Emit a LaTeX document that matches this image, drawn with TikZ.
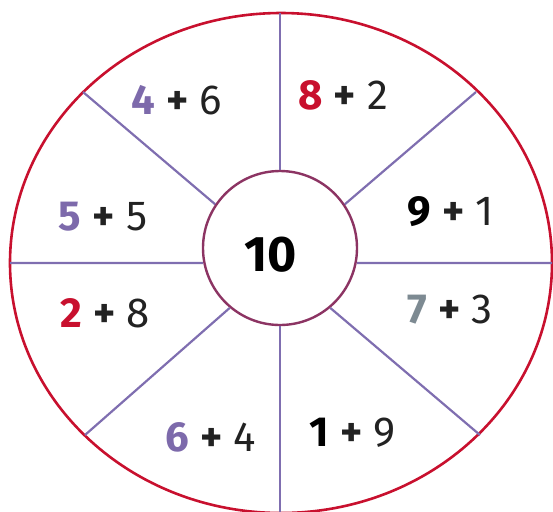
\documentclass[tikz,border=0pt]{standalone}
\usepackage{fontspec}
\setmainfont{Fira Sans}
\usetikzlibrary{positioning}
\definecolor{cred}{HTML}{C8102E}
\definecolor{cpurple}{HTML}{7D6AAB}
\definecolor{cline}{HTML}{7F6EB0}
\definecolor{cmaroon}{HTML}{8C3463}
\definecolor{cgray}{HTML}{7D8A92}
\definecolor{cdark}{HTML}{222222}

\begin{document}
\begin{tikzpicture}[x=0.5pt,y=-0.5pt,
  spoke/.style={draw=cline, line width=1.1pt},
  sum/.style={font=\fontsize{21}{24}\selectfont, text=cdark, inner sep=0},
  hub/.style={circle, draw=cmaroon, line width=1.2pt, fill=white, minimum size=77pt, inner sep=0}]
\useasboundingbox (0,0) rectangle (553,511);

% outer ring and centre
\draw[draw=cred, line width=1.3pt] (281,263) ellipse [x radius=271, y radius=250];
\node[hub] (hub) at (280,248) {};
\node[font=\fontsize{25}{28}\selectfont\bfseries, text=black, inner sep=0] (ten) at (271,255) {10};

\coordinate (rimN) at (280,13);
\coordinate (rimS) at (280,515);
\coordinate (rimW) at (10,263);
\coordinate (rimE) at (552,263);
\coordinate (rimNW) at (83,92);
\coordinate (rimNE) at (476,92);
\coordinate (rimSW) at (85,435);
\coordinate (rimSE) at (480,435);

% spokes
\draw[spoke] (rimN) -- (hub.north);
\draw[spoke] (hub.south) -- (rimS);
\draw[spoke] (rimW) -- (hub.191);
\draw[spoke] (hub.-11) -- (rimE);
\draw[spoke] (rimNW) -- (hub.146);
\draw[spoke] (rimNE) -- (hub.34);
\draw[spoke] (rimSW) -- (hub.230);
\draw[spoke] (rimSE) -- (hub.310);

% sums
\node[sum] (s46) at (177,100) {\textbf{\textcolor{cpurple}{4}} \textbf{+} 6};
\node[sum] (s82) at (343,95) {\textbf{\textcolor{cred}{8}} \textbf{+} 2};
\node[sum] (s55) at (103,217) {\textbf{\textcolor{cpurple}{5}} \textbf{+} 5};
\node[sum] (s91) at (451,212) {\textbf{\textcolor{black}{9}} \textbf{+} 1};
\node[sum] (s28) at (105,313) {\textbf{\textcolor{cred}{2}} \textbf{+} 8};
\node[sum] (s73) at (450,310) {\textbf{\textcolor{cgray}{7}} \textbf{+} 3};
\node[sum] (s64) at (211,437) {\textbf{\textcolor{cpurple}{6}} \textbf{+} 4};
\node[sum] (s19) at (353,433) {\textbf{\textcolor{black}{1}} \textbf{+} 9};
\end{tikzpicture}
\end{document}
